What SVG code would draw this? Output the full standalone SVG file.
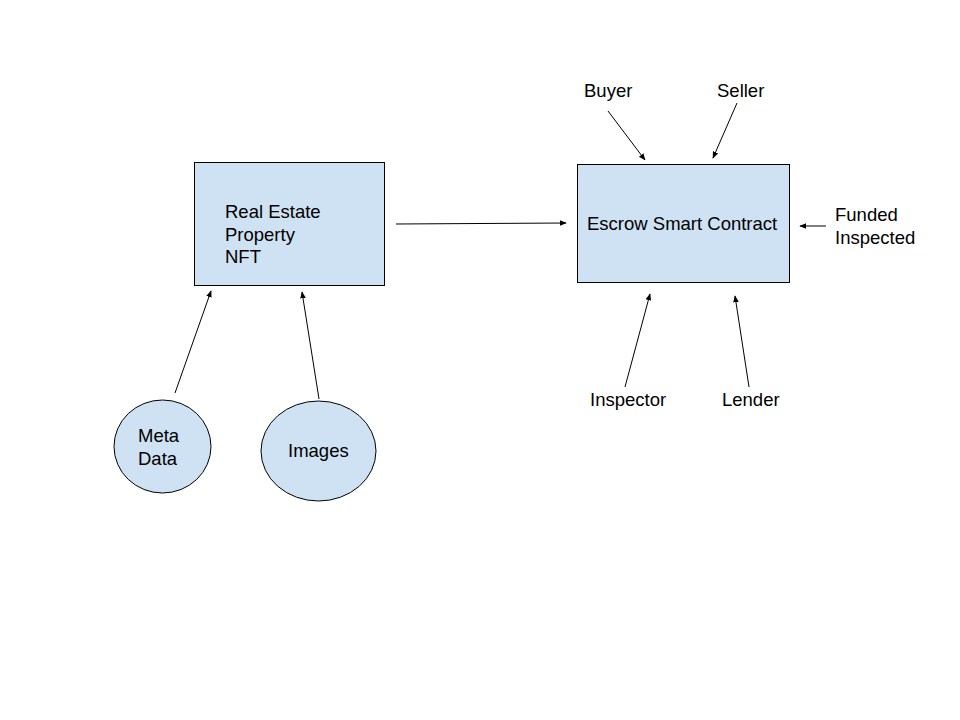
<svg xmlns="http://www.w3.org/2000/svg" width="960" height="720" viewBox="0 0 960 720">
<defs>
<marker id="ah" viewBox="0 0 10 10" refX="9" refY="5" markerWidth="7" markerHeight="7" markerUnits="userSpaceOnUse" orient="auto">
<path d="M0,1 L10,5 L0,9 z" fill="#000"/>
</marker>
<style>
.n{fill:#cfe2f3;stroke:#000;stroke-width:1}
.t{font-family:"Liberation Sans",Arial,sans-serif;font-size:18.5px;fill:#000}
.c{stroke:#000;stroke-width:1;fill:none;marker-end:url(#ah)}
</style>
</defs>
<rect width="960" height="720" fill="#fff"/>
<g id="nft">
<rect class="n" x="194.5" y="162.5" width="190" height="123"/>
<text class="t" x="225" y="218">Real Estate</text>
<text class="t" x="225" y="241">Property</text>
<text class="t" x="225" y="263">NFT</text>
</g>
<g id="escrow">
<rect class="n" x="577.5" y="164.5" width="212" height="118"/>
<text class="t" x="587" y="230">Escrow Smart Contract</text>
</g>
<g id="metadata">
<ellipse class="n" cx="162.5" cy="446.5" rx="48.5" ry="46.5"/>
<text class="t" x="138" y="442">Meta</text>
<text class="t" x="138" y="465">Data</text>
</g>
<g id="images">
<ellipse class="n" cx="318.5" cy="451" rx="57.5" ry="50"/>
<text class="t" x="288" y="457">Images</text>
</g>
<g id="buyer"><text class="t" x="584" y="97">Buyer</text></g>
<g id="seller"><text class="t" x="717" y="97">Seller</text></g>
<g id="status">
<text class="t" x="835" y="221">Funded</text>
<text class="t" x="835" y="244">Inspected</text>
</g>
<g id="inspector"><text class="t" x="590" y="406">Inspector</text></g>
<g id="lender"><text class="t" x="722" y="406">Lender</text></g>
<g id="connectors">
<line class="c" x1="175" y1="393" x2="211" y2="291"/>
<line class="c" x1="319" y1="399" x2="302" y2="292"/>
<line class="c" x1="396" y1="224" x2="566" y2="223"/>
<line class="c" x1="608" y1="111" x2="645" y2="160"/>
<line class="c" x1="737" y1="103" x2="713" y2="158"/>
<line class="c" x1="826" y1="226" x2="800" y2="226"/>
<line class="c" x1="625" y1="387" x2="650" y2="294"/>
<line class="c" x1="749" y1="387" x2="735" y2="296"/>
</g>
</svg>
